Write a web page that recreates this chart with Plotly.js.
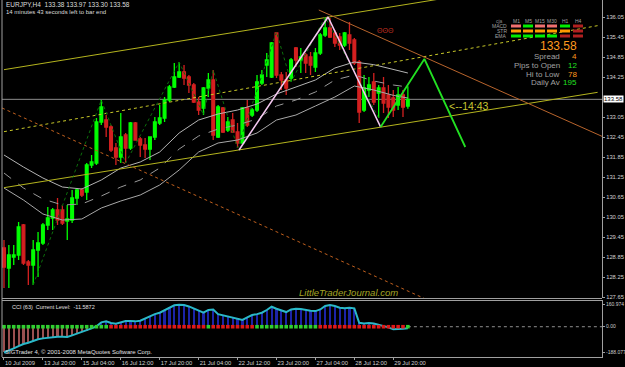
<!DOCTYPE html>
<html><head><meta charset="utf-8">
<script src="https://cdn.plot.ly/plotly-3.0.1.min.js"></script>
<style>html,body{margin:0;padding:0;background:#000;}#chart{width:625px;height:367px;}</style>
</head><body><div id="chart"></div>
<script>
// ---------- DATA (EURJPY H4, bar 0 = 10 Jul 2009 12:00) ----------
const barOpen = [129.12,128.52,128.85,128.91,129.81,128.70,128.61,129.06,129.27,129.81,
130.02,130.26,130.26,129.93,129.96,130.62,130.86,130.80,131.61,131.67,
132.90,132.96,132.75,132.12,131.85,132.51,132.12,132.87,132.39,132.21,
132.09,132.45,132.87,133.02,133.56,133.95,134.25,134.40,134.25,134.01,
133.50,133.32,133.92,134.16,132.45,133.32,132.66,132.96,132.60,132.27,
133.32,133.11,133.26,134.07,134.61,134.25,135.57,134.31,134.16,134.22,
135.12,134.76,134.91,134.85,134.55,134.97,135.51,135.72,135.57,135.45,
135.21,135.51,135.36,134.70,133.26,133.86,134.10,133.77,133.92,133.71,
133.62,133.41,133.71,133.38];
const barHigh = [129.36,129.21,129.21,129.90,129.84,128.76,129.36,129.60,129.87,130.35,
130.32,130.62,130.41,130.41,130.86,130.92,130.92,131.67,131.91,133.02,
133.56,133.11,132.81,132.27,133.17,132.57,132.90,132.90,132.45,132.42,
132.45,133.05,133.41,133.65,134.01,134.67,134.70,134.61,134.31,134.07,
133.65,133.95,134.37,134.46,133.41,133.35,133.05,133.17,132.87,133.35,
133.56,133.32,134.31,134.46,134.97,135.30,135.60,134.40,134.40,134.82,
135.15,135.12,134.97,135.00,135.12,135.57,136.05,136.02,135.66,135.57,
135.60,135.90,135.42,134.76,134.31,134.25,134.37,134.01,134.25,134.01,
133.86,133.95,133.86,133.97];
const barLow = [127.92,127.92,128.61,128.76,128.61,128.01,128.01,128.25,129.21,129.66,
129.66,129.81,129.81,129.36,129.87,130.41,130.65,130.56,131.52,131.61,
132.81,132.45,132.00,131.61,131.67,131.67,132.06,132.36,131.85,131.82,
131.76,132.36,132.81,132.90,133.50,133.92,134.22,134.01,133.77,133.47,
133.11,133.11,133.65,132.36,132.42,132.57,132.60,132.57,132.12,132.27,
132.75,133.05,133.20,134.01,134.25,134.22,134.22,133.86,133.71,134.10,
134.55,134.37,134.37,134.31,134.40,134.91,135.45,135.42,135.15,135.06,
135.15,135.06,134.61,132.87,133.20,133.65,133.41,133.02,133.17,133.02,
133.05,133.26,133.05,133.30];
const barClose = [128.55,128.91,128.91,129.75,128.67,128.61,129.06,129.27,129.81,130.02,
130.26,129.96,129.87,129.99,130.62,130.86,130.71,131.61,131.70,132.90,
133.35,132.75,132.06,131.85,132.45,132.12,132.87,132.36,132.21,132.09,
132.45,132.90,133.02,133.56,133.95,134.25,134.40,134.22,134.01,133.50,
133.26,133.92,134.16,132.51,133.35,132.60,132.90,132.60,132.27,133.32,
132.81,133.26,134.10,134.31,134.76,135.27,134.31,134.16,133.92,134.76,
134.76,134.85,134.67,134.61,134.97,135.51,135.72,135.45,135.27,135.21,
135.57,135.27,134.67,133.20,133.92,134.01,133.50,133.92,133.47,133.35,
133.26,133.71,133.35,133.58];

const cciValues = [-188.08,-175,-158,-141,-126,-117,-102,-92,-85,-80,
-73,-73,-73,-75,-63,-51,-36,-29,-12,3,
32,39,27,22,32,41,41,39,44,61,
78,92,102,122,141,156,160.97,158,148,131,
117,102,122,126,92,83,73,63,53,49,
68,85,92,102,122,146,131,117,107,126,
131,129,122,117,114,126,151,158,151,139,
134,139,134,29,24,27,24,15,5,-5,
-19,-19,-15,-11.59];
// 1 = green square, 0 = red square on the CCI zero line
const cciState = [1,1,1,1,1,1,1,1,1,1, 1,1,1,1,1,1,1,1,1,1, 1,1,0,0,0,0,0,0,0,0,
0,0,0,0,0,0,0,0,0,0, 0,0,1,0,0,0,0,0,0,0, 0,0,1,1,1,1,1,1,1,1, 1,1,1,1,1,0,0,0,0,0,
0,0,0,0,0,0,0,0,0,0, 0,0,0,1];

// moving-average band (bar index, price)
const maBars = [0,4,8,12,16,20,24,28,32,36,40,44,48,52,56,60,64,68,72,76,80,83];
const maUpper = [131.91,131.55,131.22,130.95,130.89,131.16,131.52,131.70,132.00,132.57,132.96,133.14,133.26,133.44,133.74,133.95,134.16,134.52,134.70,134.62,134.48,134.37];
const maMiddle = [131.37,130.92,130.59,130.41,130.44,130.68,130.95,131.16,131.52,132.09,132.48,132.69,132.81,132.99,133.38,133.56,133.80,134.16,134.31,134.13,134.01,133.95];
const maLower = [130.92,130.56,130.14,129.96,129.99,130.32,130.53,130.71,131.01,131.46,132.00,132.27,132.36,132.57,132.96,133.11,133.38,133.65,133.98,133.86,133.70,133.62];

// trend lines (bar index, price)
const chanUpX = [0,120], chanUpY = [134.47,137.31];
const chanLowX = [0,122], chanLowY = [130.93,133.79];
const chanMidX = [0,122], chanMidY = [132.61,135.79];
const fanSolidX = [64.7,122.9], fanSolidY = [136.26,132.47];
const fanDotX = [-0.4,87.7], fanDotY = [133.32,127.52];
const zigPinkX = [48.3,66.6,77.4], zigPinkY = [132.06,136.05,132.75];
const zigGreenX = [77.4,86.4,94.8], zigGreenY = [132.75,134.79,132.15];
const zigDarkX = [6,20,25,36,41,43,48,56,59,66,77], zigDarkY = [128.01,133.56,131.67,134.70,133.11,134.46,132.12,135.60,134.10,136.05,133.02];

const tickBars = [0,8,16,24,32,40,48,56,64,72,80];
const tickLabels = ['10 Jul 2009','13 Jul 20:00','15 Jul 04:00','16 Jul 12:00','17 Jul 20:00','21 Jul 04:00','22 Jul 12:00','23 Jul 20:00','27 Jul 04:00','28 Jul 12:00','29 Jul 20:00'];
const priceTicks = [136.05,135.45,134.85,134.25,133.05,132.45,131.85,131.25,130.65,130.05,129.45,128.85,128.25,127.65];
const cciTicks = [160.974,0,-188.077];
const cciTickText = ['160.974','0.00','-188.077'];

const tfNames = ['M1','M5','M15','M30','H1','H4'];
const rowNames = ['MACD','STR','EMA'];
const macdColors = ['#f07070','#00ee00','#f07070','#f07070','#00ee00','#b02020'];
const strColors = ['#ff9a00','#ff9a00','#ff9a00','#ff9a00','#ff9a00','#b02020'];
const emaColors = ['#00ee00','#00ee00','#00ee00','#00ee00','#b02020','#b02020'];
const infoLabels = ['Spread','Pips to Open','Hi to Low','Daily Av'];
const infoValues = ['4','12','78','195'];
const infoColors = ['#ff9a1e','#22e022','#ff9a1e','#22e022'];

// ---------- BUILD ----------
const idx = barOpen.map((_, i) => i);
const lastClose = barClose[barClose.length - 1];
const xMax = 122.9, xMin = -0.41;
const F = 'Liberation Sans, Arial, sans-serif';

function ln(x, y, color, width, dash, yaxis) {
  return {type:'scatter', mode:'lines', x:x, y:y, xaxis:'x', yaxis:yaxis||'y',
    line:{color:color, width:width, dash:dash||'solid'}, hoverinfo:'skip', showlegend:false};
}

const traces = [
  ln(maBars, maUpper, '#b4b4b4', 1, 'solid'),
  ln(maBars, maMiddle, '#9a9a9a', 1, 'dash'),
  ln(maBars, maLower, '#a8a8a8', 1, 'solid'),
  ln(chanUpX, chanUpY, '#b4b41e', 1, 'solid'),
  ln(chanLowX, chanLowY, '#b4b41e', 1, 'solid'),
  ln(chanMidX, chanMidY, '#c8c828', 1, 'dot'),
  ln(fanSolidX, fanSolidY, '#b8642c', 1, 'solid'),
  ln(fanDotX, fanDotY, '#c0601e', 1, 'dot'),
  ln(zigDarkX, zigDarkY, '#0c700c', 1, 'dot'),
  {type:'candlestick', x:idx, open:barOpen, high:barHigh, low:barLow, close:barClose,
   xaxis:'x', yaxis:'y', whiskerwidth:0,
   increasing:{line:{color:'#00ff00', width:1.3}, fillcolor:'#00ff00'},
   decreasing:{line:{color:'#d42020', width:1.3}, fillcolor:'#d42020'},
   hoverinfo:'skip', showlegend:false},
  ln(zigPinkX, zigPinkY, '#f4c8f0', 1.6, 'solid'),
  ln(zigGreenX, zigGreenY, '#22e022', 1.8, 'solid'),
  // CCI pane
  {type:'bar', x:idx, y:cciValues, xaxis:'x', yaxis:'y2', width:0.45,
   marker:{color:cciValues.map(v => v >= 0 ? '#1c24a8' : '#9a5050'), line:{width:0}},
   hoverinfo:'skip', showlegend:false},
  ln([idx[idx.length-1], xMax], [0, 0], '#909090', 1, 'dot', 'y2'),
  ln(idx, cciValues, '#2ab8c8', 2, 'solid', 'y2'),
  {type:'scatter', mode:'markers', x:idx, y:idx.map(() => 0), xaxis:'x', yaxis:'y2',
   marker:{symbol:'square', size:3.6, color:cciState.map(s => s ? '#30d030' : '#e01818'), line:{width:0}},
   hoverinfo:'skip', showlegend:false}
];

const W = 600, H = 357, L = 2;
const px = x => (x - L) / W;
const py = y => (H - y) / H;
function txt(x, y, text, size, color, anchor, extra) {
  return Object.assign({xref:'paper', yref:'paper', x:px(x), y:py(y), text:text, showarrow:false,
    xanchor:anchor||'left', yanchor:'middle', font:{family:F, size:size, color:color}}, extra||{});
}

const ann = [
  txt(4, 5, 'EURJPY,H4  133.38 133.97 133.30 133.58', 6.5, '#dcdcdc'),
  txt(4, 12, '14 minutes 43 seconds left to bar end', 6, '#dcdcdc'),
  txt(499, 21, 'cja', 5, '#8a8a8a', 'center'),
  txt(385, 30, 'ʘʘʘ', 7, '#c03020', 'center'),
  txt(447, 106, '&lt;--14:43', 10.5, '#c8c832'),
  txt(297, 292, 'LittleTraderJournal.com', 9.5, '#a4a424', 'left', {font:{family:F, size:9.5, color:'#a4a424', style:'italic'}}),
  txt(10, 307, 'CCI (63)  Current Level:  -11.5872', 5.5, '#e0e0e0'),
  txt(3, 352, 'SIGTrader 4, © 2001-2008 MetaQuotes Software Corp.', 6, '#e0e0e0'),
  txt(579, 46, String(lastClose.toFixed(2)), 12, '#ff9a1e', 'right'),
  {xref:'paper', yref:'y', x:px(603), y:lastClose, text:lastClose.toFixed(2), showarrow:false,
   xanchor:'left', yanchor:'middle', bgcolor:'#ffffff', borderpad:0,
   font:{family:F, size:6, color:'#000000'}}
];
const colX = [516,528,540,552,565,578];
const rowY = [26,31,36];
tfNames.forEach((t, i) => ann.push(txt(colX[i], 21, t, 5, '#a0a0a0', 'center')));
rowNames.forEach((t, i) => ann.push(txt(509, rowY[i], t, 5, '#a0a0a0', 'right')));
infoLabels.forEach((t, i) => {
  ann.push(txt(562, 56 + 9*i, t, 8, '#a0a0a0', 'right'));
  ann.push(txt(579, 56 + 9*i, infoValues[i], 8, infoColors[i], 'right'));
});

const shapes = [
  {type:'line', xref:'paper', yref:'y', x0:0, x1:1, y0:lastClose, y1:lastClose, line:{color:'#8c8c8c', width:1}, layer:'below'},
  {type:'line', xref:'paper', yref:'paper', x0:0, x1:1, y0:py(298.5), y1:py(298.5), line:{color:'#a0a0a0', width:1}},
  {type:'line', xref:'paper', yref:'paper', x0:0, x1:1, y0:py(300.5), y1:py(300.5), line:{color:'#a0a0a0', width:1}},
  {type:'line', xref:'paper', yref:'paper', x0:0, x1:0, y0:0, y1:1, line:{color:'#a0a0a0', width:1}}
];
[macdColors, strColors, emaColors].forEach((row, r) => {
  row.forEach((c, i) => shapes.push({type:'rect', xref:'paper', yref:'paper',
    x0:px(colX[i]-5), x1:px(colX[i]+5), y0:py(rowY[r]+1.5), y1:py(rowY[r]-1.5),
    fillcolor:c, line:{width:0}}));
});

const axFont = {family:F, size:5.8, color:'#d0d0d0'};
const layout = {
  width:625, height:367, margin:{l:2, r:23, t:0, b:10},
  paper_bgcolor:'#000000', plot_bgcolor:'#000000', showlegend:false, bargap:0, boxgap:0.2,
  xaxis:{range:[xMin, xMax], anchor:'y2', domain:[0,1], showgrid:false, zeroline:false,
    tickvals:tickBars, ticktext:tickLabels, tickangle:0, ticks:'outside', ticklen:2, tickcolor:'#a0a0a0',
    ticklabelposition:'outside right', tickfont:axFont, showline:true, linecolor:'#a0a0a0',
    rangeslider:{visible:false}, fixedrange:true, automargin:false},
  yaxis:{domain:[py(298), 1], range:[127.62, 136.56], side:'right', anchor:'x',
    tickvals:priceTicks, ticktext:priceTicks.map(v => v.toFixed(2)), ticks:'outside', ticklen:2,
    tickcolor:'#a0a0a0', tickfont:axFont, showgrid:false, zeroline:false,
    showline:true, linecolor:'#a0a0a0', fixedrange:true, automargin:false},
  yaxis2:{domain:[0, py(300)], range:[-221, 195], side:'right', anchor:'x',
    tickvals:cciTicks, ticktext:cciTickText, ticks:'outside', ticklen:2, tickcolor:'#a0a0a0',
    tickfont:{family:F, size:5, color:'#d0d0d0'}, showgrid:false, zeroline:false, showline:true, linecolor:'#a0a0a0', fixedrange:true, automargin:false},
  annotations:ann, shapes:shapes
};
Plotly.newPlot('chart', traces, layout, {displayModeBar:false, staticPlot:true});
</script></body></html>
